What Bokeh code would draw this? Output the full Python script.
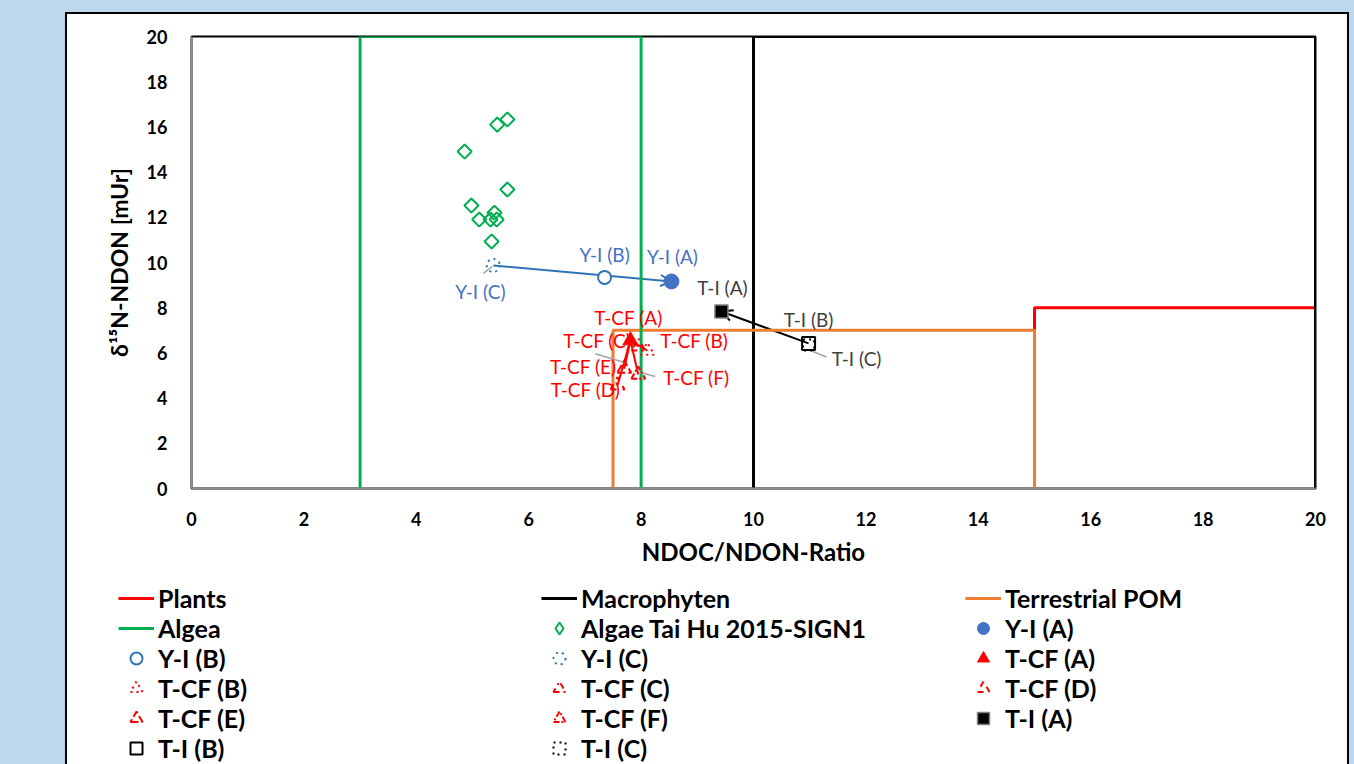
import numpy as np
from bokeh.plotting import figure
from bokeh.models import (Legend, LegendItem, Range1d, FixedTicker, Arrow, OpenHead,
                          Spacer, ColumnDataSource)
from bokeh.layouts import column, row
from bokeh.core.properties import value
from bokeh.embed import file_html
from bokeh.resources import INLINE

# ---------------- data ----------------
plants_x = [15, 15, 20, 20]
plants_y = [0, 8, 8, 0]
macro_x = [10, 10, 20, 20]
macro_y = [0, 20, 20, 0]
algea_x = [3, 3, 8, 8]
algea_y = [0, 20, 20, 0]
pom_x = [7.5, 7.5, 15, 15]
pom_y = [0, 7, 7, 0]

algae_x = [4.86, 5.44, 5.62, 4.98, 5.62, 5.12, 5.39, 5.32, 5.43, 5.34]
algae_y = [14.91, 16.10, 16.33, 12.52, 13.23, 11.90, 12.20, 11.90, 11.90, 10.93]

yi_labels = ["Y-I (A)", "Y-I (B)", "Y-I (C)"]
yi_x = [8.54, 7.35, 5.37]
yi_y = [9.16, 9.34, 9.87]

tcf_labels = ["T-CF (A)", "T-CF (B)", "T-CF (C)", "T-CF (D)", "T-CF (E)", "T-CF (F)"]
tcf_x = [7.81, 8.11, 7.95, 7.58, 7.70, 7.95]
tcf_y = [6.55, 6.10, 6.28, 4.56, 5.30, 5.04]

ti_labels = ["T-I (A)", "T-I (B)", "T-I (C)"]
ti_x = [9.43, 10.98, 10.98]
ti_y = [7.83, 6.42, 6.35]

x_ticks = list(range(0, 21, 2))
y_ticks = list(range(0, 21, 2))

# ---------------- styles ----------------
FONT = "Lato"
BLUE = "#4472C4"
BLUE2 = "#2E75B6"
GREEN = "#00B050"
ORANGE = "#ED7D31"
RED = "#FF0000"
BG = "#BDD7EE"

CONTENT_W = 1280
FRAME_W, FRAME_H = 1124, 452
MAIN_H = 556
LEG_H = 194

p = figure(width=CONTENT_W, height=MAIN_H, x_range=Range1d(0, 20), y_range=Range1d(0, 20),
           output_backend="svg", toolbar_location=None,
           min_border_left=124, min_border_right=CONTENT_W - 124 - FRAME_W,
           min_border_top=22, min_border_bottom=MAIN_H - 22 - FRAME_H)
p.frame_align = False
p.border_fill_color = "white"
p.background_fill_color = "white"
p.outline_line_color = "black"
p.outline_line_width = 2
p.xgrid.visible = False
p.ygrid.visible = False

for ax, ticks in ((p.xaxis[0], x_ticks), (p.yaxis[0], y_ticks)):
    ax.ticker = FixedTicker(ticks=ticks)
    ax.axis_line_color = "#8C8C8C"
    ax.axis_line_width = 2
    ax.major_tick_line_color = None
    ax.minor_tick_line_color = None
    ax.major_tick_out = 0
    ax.major_tick_in = 0
    ax.major_label_text_font = FONT
    ax.major_label_text_font_style = "bold"
    ax.major_label_text_font_size = "18px"
    ax.major_label_text_color = "#000000"
    ax.axis_label_text_font = FONT
    ax.axis_label_text_font_style = "bold"
    ax.axis_label_text_color = "#000000"

p.xaxis.axis_label = "NDOC/NDON-Ratio"
p.xaxis.axis_label_text_font_size = "24px"
p.xaxis.major_label_standoff = 23
p.xaxis.axis_label_standoff = 8
p.yaxis.axis_label = "δ¹⁵N-NDON [mUr]"
p.yaxis.axis_label_text_font_size = "23px"
p.yaxis.major_label_standoff = 24
p.yaxis.axis_label_standoff = 11

# zone lines
line_styles = dict(
    plants=dict(line_color=RED, line_width=3),
    macro=dict(line_color="black", line_width=3),
    pom=dict(line_color=ORANGE, line_width=3),
    algea=dict(line_color=GREEN, line_width=3),
)
p.line(plants_x, plants_y, **line_styles["plants"])
p.line(macro_x, macro_y, **line_styles["macro"])
p.line(pom_x, pom_y, **line_styles["pom"])
p.line(algea_x, algea_y, **line_styles["algea"])

# connecting arrows / lines
yi_arrow = Arrow(x_start=yi_x[2], y_start=yi_y[2], x_end=yi_x[0], y_end=yi_y[0],
                 line_color=BLUE2, line_width=2,
                 end=OpenHead(size=11, line_color=BLUE2, line_width=2))
yi_arrow.level = "underlay"
p.add_layout(yi_arrow)
ti_arrow = Arrow(x_start=ti_x[1], y_start=ti_y[1], x_end=ti_x[0], y_end=ti_y[0],
                 line_color="black", line_width=2,
                 end=OpenHead(size=11, line_color="black", line_width=2))
ti_arrow.level = "underlay"
p.add_layout(ti_arrow)
p.segment(x0=tcf_x[1:], y0=tcf_y[1:], x1=[tcf_x[0]] * 5, y1=[tcf_y[0]] * 5,
          line_color=RED, line_width=2)

# leader lines (pixel offsets converted to data units)
px_x = FRAME_W / 20.0
px_y = FRAME_H / 20.0
leaders = [  # (series x, series y, index, start px offset, end px offset)
    (yi_x, yi_y, 2, (-1, 1), (-10, 8)),
    (ti_x, ti_y, 2, (3, 6), (18, 12)),
    (tcf_x, tcf_y, 4, (-29, -15), (1, -6)),
    (tcf_x, tcf_y, 5, (2, -2), (17, 2)),
]
lx0, ly0, lx1, ly1 = [], [], [], []
for sx, sy, i, (a, b), (c, d) in leaders:
    lx0.append(sx[i] + a / px_x); ly0.append(sy[i] - b / px_y)
    lx1.append(sx[i] + c / px_x); ly1.append(sy[i] - d / px_y)
p.segment(x0=lx0, y0=ly0, x1=lx1, y1=ly1, line_color="#A6A6A6", line_width=1.5)

# markers
algae_style = dict(marker="square", angle=np.pi / 4, size=10,
                   fill_color=None, line_color=GREEN, line_width=2)
algae_legend_style = dict(marker="diamond", size=17,
                          fill_color=None, line_color=GREEN, line_width=2)
yi_styles = [
    dict(marker="circle", size=15, fill_color=BLUE, line_color=BLUE),
    dict(marker="circle", size=13, fill_color="white", line_color=BLUE2, line_width=2),
    dict(marker="circle", size=13, fill_color=None, line_color=BLUE2, line_width=2,
         line_dash="dotted"),
]
tcf_dash = ["solid", "dotted", "dashdot", "dashed", "8 3", "6 2 2 2"]
tcf_styles = [dict(marker="triangle", size=15, fill_color=RED, line_color=RED)] + [
    dict(marker="triangle", size=14, fill_color=None, line_color=RED, line_width=2,
         line_dash=tcf_dash[i]) for i in range(1, 6)]
ti_styles = [
    dict(marker="square", size=13, fill_color="black", line_color="#7F7F7F", line_width=1.5),
    dict(marker="square", size=13, fill_color=None, line_color="black", line_width=2),
    dict(marker="square", size=11, fill_color=None, line_color="black", line_width=2,
         line_dash="dotted"),
]
p.scatter(algae_x, algae_y, **algae_style)
for i in range(3):
    p.scatter([yi_x[i]], [yi_y[i]], **yi_styles[i])
for i in range(6):
    p.scatter([tcf_x[i]], [tcf_y[i]], **tcf_styles[i])
for i in range(3):
    p.scatter([ti_x[i]], [ti_y[i]], **ti_styles[i])

# data labels
def add_labels(xs, ys, labels, offs, color):
    src = ColumnDataSource(dict(x=xs, y=ys, t=labels,
                                dx=[o[0] for o in offs], dy=[o[1] for o in offs]))
    p.text(x="x", y="y", text="t", x_offset="dx", y_offset="dy", source=src,
           text_font=value(FONT), text_font_size="19px", text_color=color,
           text_align="center", text_baseline="middle")

add_labels(yi_x, yi_y, yi_labels, [(1, -25), (0, -23), (-13, 26)], BLUE)
add_labels(tcf_x, tcf_y, tcf_labels,
           [(-2, -23), (47, -10), (-41, -6), (-32, 4), (-41, -2), (58, 3)], RED)
add_labels(ti_x, ti_y, ti_labels, [(1, -24), (0, -24), (48, 14)], "#404040")

# ---------------- legend figure (series drawn out of its view, legend only) ----------------
lf = figure(width=CONTENT_W, height=LEG_H, x_range=Range1d(0, 1), y_range=Range1d(0, 1),
            output_backend="svg", toolbar_location=None,
            min_border_left=0, min_border_right=0, min_border_top=0, min_border_bottom=0)
lf.frame_align = False
lf.axis.visible = False
lf.xgrid.visible = False
lf.ygrid.visible = False
lf.outline_line_color = None
lf.border_fill_color = "white"
lf.background_fill_color = "white"

L_plants = lf.line(plants_x, plants_y, **line_styles["plants"])
L_macro = lf.line(macro_x, macro_y, **line_styles["macro"])
L_pom = lf.line(pom_x, pom_y, **line_styles["pom"])
L_algea = lf.line(algea_x, algea_y, **line_styles["algea"])
L_algae = lf.scatter(algae_x, algae_y, **algae_legend_style)
L_yi = [lf.scatter([yi_x[i]], [yi_y[i]], **yi_styles[i]) for i in range(3)]
L_tcf = [lf.scatter([tcf_x[i]], [tcf_y[i]], **tcf_styles[i]) for i in range(6)]
L_ti = [lf.scatter([ti_x[i]], [ti_y[i]], **ti_styles[i]) for i in range(3)]

def make_legend(items, vx, vy):
    leg = Legend(items=[LegendItem(label=l, renderers=[r]) for l, r in items],
                 location=(vx, vy), orientation="vertical")
    leg.border_line_color = None
    leg.background_fill_alpha = 0
    leg.padding = 0
    leg.margin = 0
    leg.spacing = 0
    leg.glyph_width = 36
    leg.glyph_height = 30
    leg.label_height = 30
    leg.label_standoff = 4
    leg.label_text_font = FONT
    leg.label_text_font_style = "bold"
    leg.label_text_font_size = "25px"
    leg.label_text_color = "#000000"
    leg.label_text_baseline = "middle"
    lf.add_layout(leg)

make_legend([("Plants", L_plants), ("Algea", L_algea), ("Y-I (B)", L_yi[1]),
             ("T-CF (B)", L_tcf[1]), ("T-CF (E)", L_tcf[4]), ("T-I (B)", L_ti[1])], 51, 1)
make_legend([("Macrophyten", L_macro), ("Algae Tai Hu 2015-SIGN1", L_algae), ("Y-I (C)", L_yi[2]),
             ("T-CF (C)", L_tcf[2]), ("T-CF (F)", L_tcf[5]), ("T-I (C)", L_ti[2])], 474, 1)
make_legend([("Terrestrial POM", L_pom), ("Y-I (A)", L_yi[0]), ("T-CF (A)", L_tcf[0]),
             ("T-CF (D)", L_tcf[3]), ("T-I (A)", L_ti[0])], 898, 31)

# ---------------- page framing ----------------
content = column(p, lf, styles={"background-color": "white"})
inner = column(Spacer(height=2, width=CONTENT_W + 4),
               row(Spacer(width=2, height=MAIN_H + LEG_H), content,
                   Spacer(width=2, height=MAIN_H + LEG_H)),
               styles={"background-color": "black"})
root = column(Spacer(height=12, width=1354),
              row(Spacer(width=65, height=MAIN_H + LEG_H + 2), inner,
                  Spacer(width=1354 - 65 - CONTENT_W - 4, height=MAIN_H + LEG_H + 2)),
              styles={"background-color": BG})

open("out.html", "w").write(file_html(root, INLINE))
